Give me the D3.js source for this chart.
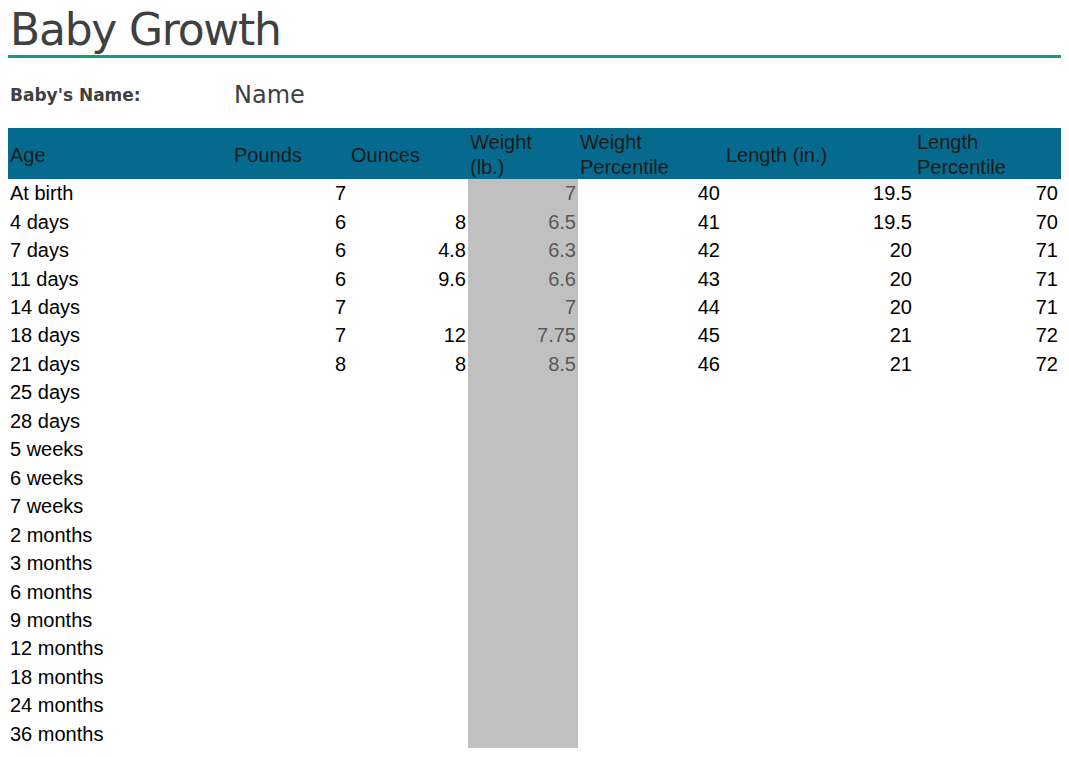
<!DOCTYPE html>
<html><head><meta charset="utf-8">
<script src="https://cdn.jsdelivr.net/npm/d3@7"></script>
<style>body{margin:0;background:#fff}</style></head>
<body><svg id="c" width="1069" height="757"></svg>
<script>
const ages=["At birth","4 days","7 days","11 days","14 days","18 days","21 days","25 days","28 days","5 weeks","6 weeks","7 weeks","2 months","3 months","6 months","9 months","12 months","18 months","24 months","36 months"];
const pounds=[7,6,6,6,7,7,8];
const ounces=[null,8,4.8,9.6,null,12,8];
const weightLb=["7","6.5","6.3","6.6","7","7.75","8.5"];
const weightPct=[40,41,42,43,44,45,46];
const lengthIn=[19.5,19.5,20,20,20,21,21];
const lengthPct=[70,70,71,71,71,72,72];
const headers=[["Age"],["Pounds"],["Ounces"],["Weight","(lb.)"],["Weight","Percentile"],["Length (in.)"],["Length","Percentile"]];

const svg=d3.select("#c");
const F="Liberation Sans, Arial, sans-serif";
svg.append("text").attr("x",10).attr("y",45).attr("font-family","DejaVu Sans, sans-serif").attr("font-size",44).attr("fill","#404040").attr("textLength",272).text("Baby Growth");
svg.append("rect").attr("x",8).attr("y",55).attr("width",1053).attr("height",3).attr("fill","#179a7c");
svg.append("text").attr("x",10).attr("y",101).attr("font-family","DejaVu Sans, sans-serif").attr("font-weight","bold").attr("font-size",17).attr("fill","#404040").text("Baby's Name:");
svg.append("text").attr("x",234).attr("y",103).attr("font-family","DejaVu Sans, sans-serif").attr("font-size",24).attr("fill","#404040").text("Name");

svg.append("rect").attr("x",8).attr("y",128).attr("width",1053).attr("height",51).attr("fill","#066a8e");
const y=d3.scaleBand().domain(ages).range([179,748]);
svg.append("rect").attr("x",468).attr("y",179).attr("width",110).attr("height",569).attr("fill","#c0c0c0");

const hx=[10,234,351,470,580,726,917];
headers.forEach((h,i)=>{
  if(h.length===1) svg.append("text").attr("x",hx[i]).attr("y",162).attr("font-family",F).attr("font-size",20).attr("fill","#1a1a1a").text(h[0]);
  else h.forEach((t,j)=>svg.append("text").attr("x",hx[i]).attr("y",149+j*25).attr("font-family",F).attr("font-size",20).attr("fill","#1a1a1a").text(t));
});
const g=svg.append("g").attr("font-family",F).attr("font-size",20);
ages.forEach(a=>g.append("text").attr("x",10).attr("y",y(a)+y.bandwidth()/2+7).attr("fill","#000").text(a));
const cols=[[pounds,346,"#000"],[ounces,466,"#000"],[weightLb,576,"#595959"],[weightPct,720,"#000"],[lengthIn,912,"#000"],[lengthPct,1058,"#000"]];
cols.forEach(([arr,x,c])=>arr.forEach((v,i)=>{ if(v==null)return;
  g.append("text").attr("x",x).attr("y",y(ages[i])+y.bandwidth()/2+7).attr("text-anchor","end").attr("fill",c).text(v);}));
</script></body></html>
